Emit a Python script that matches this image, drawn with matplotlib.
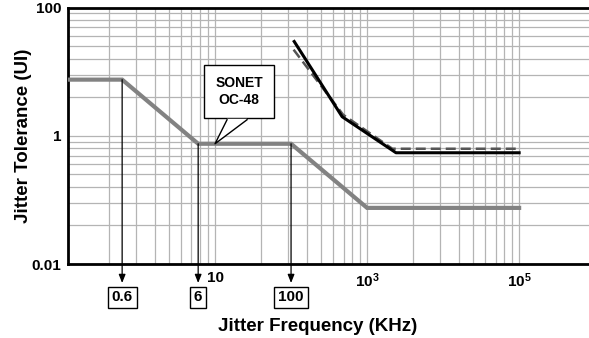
import numpy as np
import matplotlib
matplotlib.use("Agg")
import matplotlib.pyplot as plt
from matplotlib import transforms

plt.rcParams['font.family'] = ['Liberation Sans', 'DejaVu Sans']
plt.rcParams['font.weight'] = 'bold'
plt.rcParams['mathtext.fontset'] = 'custom'
plt.rcParams['mathtext.rm'] = 'Liberation Sans:bold'
plt.rcParams['mathtext.bf'] = 'Liberation Sans:bold'
plt.rcParams['mathtext.default'] = 'bf'

# SONET OC-48 tolerance mask (grey)
mask_f = [0.1, 0.6, 6, 100, 1000, 1e5]
mask_j = [7.5, 7.5, 0.75, 0.75, 0.075, 0.075]

# measured tolerance (solid black) and second measurement (dashed)
meas_f = [110, 470, 2400, 1e5]
meas_j = [29.5, 1.98, 0.543, 0.543]
meas2_f = [108, 483, 2150, 1.02e5]
meas2_j = [22, 2.13, 0.627, 0.627]

corner_f = [0.6, 6, 100]
corner_j = [7.5, 0.75, 0.75]
corner_lbl = ["0.6", "6", "100"]

xtick_vals = [10, 1e3, 1e5]
xtick_lbl = ["10", r"$10^3$", r"$10^5$"]
ytick_vals = [0.01, 1, 100]
ytick_lbl = ["0.01", "1", "100"]

fig = plt.figure(figsize=(5.89, 3.38), dpi=100)
ax = fig.add_axes([68/589, 74/338, 521/589, 256.5/338])
ax.set_xscale('log')
ax.set_yscale('log')
ax.set_xlim(0.1164, 8.3e5)
ax.set_ylim(0.01, 100)

# log paper grid: one printed cycle spans two decades
k2 = np.arange(1, 10) ** 2
gx = [c * k for c in (0.1, 10, 1000) for k in k2] + [1e5]
gx = [v for v in gx if 0.1164 < v <= 1e5]
gy = [c * k for c in (0.01, 1) for k in k2] + [100]
ax.vlines(gx, 0.01, 100, color='#b4b4b4', lw=0.9, zorder=0)
ax.hlines(gy, 0.1164, 8.3e5, color='#b4b4b4', lw=0.9, zorder=0)

ax.plot(mask_f, mask_j, color='#828282', lw=3, solid_joinstyle='miter', zorder=3)
ax.plot(meas2_f, meas2_j, color='#555555', lw=1.8, ls=(0, (4, 2)), zorder=3)
ax.plot(meas_f, meas_j, color='black', lw=2.2, zorder=4)

trans = transforms.blended_transform_factory(ax.transData, ax.transAxes)
for f, j, lbl in zip(corner_f, corner_j, corner_lbl):
    ax.annotate("", xy=(f, -0.074), xycoords=trans, xytext=(f, j), textcoords='data',
                arrowprops=dict(arrowstyle='-|>,head_length=0.5,head_width=0.2',
                                color='black', lw=0.9, shrinkA=0, shrinkB=0),
                annotation_clip=False, zorder=5)
    ax.text(f, -0.13, lbl, transform=trans, ha='center', va='center', fontsize=11,
            bbox=dict(boxstyle='square,pad=0.25', fc='white', ec='black', lw=1))

# callout box with pointer to the OC-48 mask
ax.text(20.7, 4.87, "SONET\nOC-48", ha='center', va='center', fontsize=10,
        linespacing=1.3, zorder=6,
        bbox=dict(boxstyle='square,pad=0.8', fc='white', ec='black', lw=1))
tip = fig.dpi_scale_trans + transforms.ScaledTranslation(10, 0.75, ax.transData)
ax.fill([0, 0.12, 0.32], [0, 0.25, 0.25], transform=tip, fc='white', ec='none', zorder=7)
ax.plot([0.12, 0, 0.32], [0.24, 0, 0.24], transform=tip, color='black', lw=1, zorder=7)

ax.set_xticks(xtick_vals, xtick_lbl)
ax.set_yticks(ytick_vals, ytick_lbl)
ax.minorticks_off()
ax.tick_params(length=0, labelsize=11, pad=5)
for s in ('left', 'bottom', 'top'):
    ax.spines[s].set_linewidth(2)
ax.spines['right'].set_visible(False)

ax.set_xlabel("Jitter Frequency (KHz)", fontsize=13.5, fontweight='bold')
ax.xaxis.set_label_coords(0.48, -0.21)
ax.set_ylabel("Jitter Tolerance (UI)", fontsize=13.5, fontweight='bold')
ax.yaxis.set_label_coords(-0.07, 0.5)

fig.savefig("out.png", dpi=100)
